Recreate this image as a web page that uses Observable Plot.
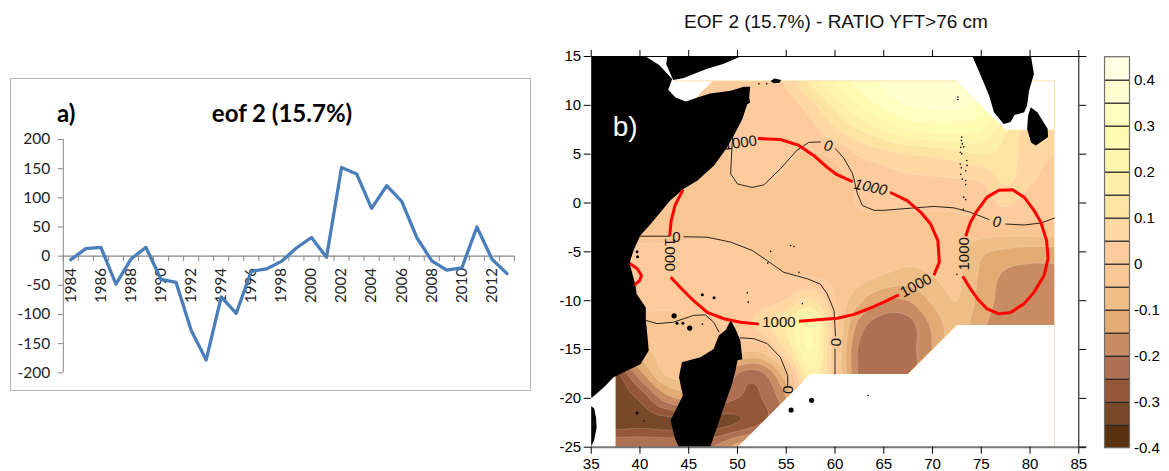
<!DOCTYPE html>
<html><head><meta charset="utf-8">
<script src="https://cdn.jsdelivr.net/npm/d3@7"></script>
<script src="https://cdn.jsdelivr.net/npm/@observablehq/plot@0.6"></script>
<style>
html,body{margin:0;padding:0;background:#fff;width:1169px;height:471px;overflow:hidden;font-family:"Liberation Sans",sans-serif}
.abs{position:absolute}
#frameA{left:10px;top:78px;width:519px;height:311px;border:1.5px solid #b5b5b5;box-sizing:content-box}
#tA{left:57px;top:98px;font:bold 24px Lato,sans-serif;color:#000}
#tA2{left:182px;width:200px;top:98px;text-align:center;font:bold 24px Lato,sans-serif;color:#000}
#tB{left:600px;width:472px;top:11px;text-align:center;font:19px "Liberation Sans",sans-serif;color:#111;white-space:nowrap}
</style></head><body>
<div id="frameA" class="abs"></div>
<div id="tA" class="abs">a)</div>
<div id="tA2" class="abs">eof 2 (15.7%)</div>
<div id="tB" class="abs">EOF 2 (15.7%) - RATIO YFT&gt;76 cm</div>
<div id="pA" class="abs" style="left:10px;top:120px"></div>
<div id="pB" class="abs" style="left:545px;top:36px"></div>
<div id="pC" class="abs" style="left:1090px;top:36px"></div>
<script>
// ---- panel a
const years = d3.range(1984, 2014);
const eof2 = [-6,13,15,-48,-5,15,-40,-45,-127,-178,-70,-98,-26,-22,-9,14,32,-2,152,141,82,121,94,32,-8,-24,-20,50,-5,-30];
const yTicksA = [-200,-150,-100,-50,0,50,100,150,200];
const yearLabels = [1984,1986,1988,1990,1992,1994,1996,1998,2000,2002,2004,2006,2008,2010,2012];
const yearEdges = d3.range(1983.5, 2014);

// ---- panel b : field (rows north to south, columns west to east)
const fieldLon = [37.5,40,42.5,45,47.5,50,52.5,55,57.5,60,62.5,65,67.5,70,72.5,75,77.5,80,82.5];
const fieldLat = [12.5,10,7.5,5,2.5,0,-2.5,-5,-7.5,-10,-12.5,-15,-17.5,-20,-22.5,-25];
const r12  = [.01,.01,.01,.01,.01,.015,.02,.06,.16,.25,.32,.36,.39,.4,.39,.36,.3,.25,.2];
const r10  = [.01,.01,.01,.01,.01,.012,.01,.02,.08,.17,.25,.31,.35,.36,.36,.33,.27,.2,.15];
const r7   = [.01,.01,.01,.01,.01,.01,.005,.01,.03,.09,.15,.2,.25,.27,.27,.25,.16,.08,.06];
const r5   = [-.01,-.01,-.01,-.01,-.01,.005,.003,.003,-.003,.01,.055,.08,.1,.11,.13,.15,.13,.07,.05];
const r2   = [-.01,-.01,-.01,-.01,-.01,.002,.002,-.003,-.01,-.01,.01,.03,.04,.045,.05,.06,.11,.06,.03];
const r0   = [-.01,-.01,-.01,-.01,-.01,-.01,-.005,-.01,-.01,-.02,.003,.006,.008,.008,.01,.02,.06,.02,.01];
const rm2  = [-.01,-.01,-.01,-.01,-.01,-.01,-.01,-.01,-.01,-.02,-.01,-.012,-.012,-.012,-.012,-.015,-.015,-.015,-.012];
const rm5  = [.005,.005,.005,.01,.01,.006,-.002,-.005,-.01,-.015,-.02,-.02,-.03,-.03,-.04,-.09,-.11,-.12,-.12];
const rm7  = [.01,.01,.01,.012,.012,.01,.01,.003,-.002,-.01,-.03,-.055,-.07,-.05,-.04,-.11,-.16,-.17,-.17];
const rm10 = [.005,.005,.005,.005,.01,.015,.03,.055,.11,0,-.09,-.15,-.15,-.09,-.05,-.12,-.17,-.18,-.18];
const rm12 = [-.01,-.01,-.01,-.005,-.005,.02,.07,.15,.24,.02,-.17,-.23,-.22,-.14,-.07,-.14,-.17,-.18,-.18];
const rm15 = [-.06,-.06,-.03,-.03,-.01,-.03,-.03,.1,.25,.01,-.21,-.24,-.22,-.15,-.07,-.14,-.17,-.18,-.18];
const rm17 = [-.31,-.17,-.05,-.03,-.03,-.2,-.21,-.06,.18,.01,-.21,-.24,-.22,-.16,-.08,-.14,-.17,-.18,-.18];
const rm20 = [-.33,-.29,-.18,-.14,-.2,-.25,-.25,-.15,.1,.01,-.21,-.24,-.22,-.16,-.08,-.14,-.17,-.18,-.18];
const rm22 = [-.33,-.32,-.32,-.32,-.32,-.3,-.25,-.18,.05,.01,-.21,-.24,-.22,-.16,-.08,-.14,-.17,-.18,-.18];
const rm25 = [-.2,-.2,-.2,-.2,-.2,-.13,-.08,-.05,.05,.01,-.21,-.24,-.22,-.16,-.08,-.14,-.17,-.18,-.18];
const fieldRows = [r12,r10,r7,r5,r2,r0,rm2,rm5,rm7,rm10,rm12,rm15,rm17,rm20,rm22,rm25];

const bandLevels = [-.4,-.35,-.3,-.25,-.2,-.15,-.1,-.05,0,.05,.1,.15,.2,.25,.3,.35,.4];
const bandTops   = [-.35,-.3,-.25,-.2,-.15,-.1,-.05,0,.05,.1,.15,.2,.25,.3,.35,.4,.45];
const bandColors = ["#5a3210","#784828","#965738","#af6f52","#c98b62","#e2ab74","#efbe86","#f9c694","#fdcb9c","#fed8a0","#fee4a2","#fef0a8","#fef6ac","#fefbb2","#ffffbf","#ffffcf","#ffffe3"];
const legendLabels = [-.4,-.3,-.2,-.1,0,.1,.2,.3,.4];

// masks (no data) in lon/lat
const maskNorthEast = [[35,15],[85,15],[85,-25],[82.5,-25],[82.5,7.5],[77.5,7.5],[72.5,12.5],[47.5,12.5],[45,10],[35,10]];
const maskWest = [[35,10],[41,10],[41,-1],[38.5,-5],[38.5,-16],[37.5,-17.5],[37.5,-25],[35,-25]];
const maskSouthEast = [[50,-25],[57.5,-17.5],[67.5,-17.5],[72.5,-12.5],[82.5,-12.5],[82.5,-25]];
const edgeTop = [[43.5,12.5],[72.5,12.5]];
const edgeTop2 = [[77.5,12.5],[82.5,12.5],[82.5,7.5]];
const edgeNW = [[47.5,12.5],[45,10]];
const edgeSE = [[67.5,-17.5],[72.5,-12.5]];
const edgeE = [[82.5,-12.5],[82.5,-25]];

// land
const africa = [[35,15],[40.6,15],[42,14.1],[43.3,12.7],[42.9,11.6],[43.65,10.8],[44.7,10.4],[45.9,10.8],[47.2,11.2],[49.3,11.5],[50.65,11.9],[51.3,11.9],[51.2,10.8],[51.3,10.3],[51,10.1],[50.5,8.6],[49.8,7.25],[48.95,5.7],[47.6,3.85],[45.9,2.3],[44.5,1.45],[43.1,.25],[42.1,-.95],[41.1,-2.15],[40.05,-3.3],[39.4,-4.7],[39,-5.9],[39,-6.4],[39.55,-8.45],[39.65,-9.3],[40.6,-10.7],[40.6,-12],[40.75,-13.4],[40.9,-15.1],[40.05,-16.5],[38.7,-17.15],[37.3,-17.85],[36.3,-18.85],[35.1,-19.9],[35,-19.9]];
const africaSouth = [[35,-20.8],[35.3,-21],[35.5,-22],[35.55,-23],[35.3,-24.3],[35,-24.9]];
const arabia = [[42.8,15],[42.7,14.2],[43.4,12.6],[44.5,12.8],[45.5,13.2],[46.9,13.75],[48.6,14.25],[50.3,15]];
const india = [[74.1,15],[74.8,13.4],[75.8,11],[76.3,9.3],[77.3,8.1],[78,8.3],[78.4,9],[79.4,9.3],[79.7,10],[79.9,11.5],[80.4,13.2],[80.1,15]];
const sriLanka = [[80.07,9.8],[80.75,9.3],[81.8,7.6],[81.85,6.75],[80.6,5.9],[80.1,6.2],[79.7,7.6],[79.8,8.95]];
const madagascar = [[49.3,-12],[49.8,-12.9],[50.3,-14.1],[50.5,-16],[50,-16.1],[49.8,-17.15],[49.45,-18.5],[48.6,-20.9],[47.9,-22.95],[47.2,-25],[44,-25],[43.55,-24],[43.15,-22.25],[44.4,-19.7],[44,-17.85],[44.3,-16.3],[46.2,-15.8],[47.55,-14.95],[48.1,-13.55],[48.8,-13]];
const socotra = [[53.4,12.5],[53.8,12.75],[54.5,12.6],[54.3,12.3],[53.7,12.25]];
const islandsTiny = [[52.2,12.2],[53,12.2],[72.6,10.85],[72.6,10.6],[73,6.75],[72.95,6.4],[73.05,6.05],[72.9,5.7],[73.2,5.75],[72.85,5.2],[73,5.05],[72.85,4],[72.95,3.6],[73.5,4.35],[73.55,3.85],[73.4,3.3],[72.9,2.95],[73.05,2.45],[73.4,2.3],[73.4,1.9],[73.2,.6],[73.4,.35],[73.15,-.65],[55.45,-4.35],[55.8,-4.45],[53.4,-4.95],[46.4,-12.4],[51,-9.2],[51.1,-10.15],[53.1,-6.15],[56.3,-7.1],[56.65,-10.3],[40.4,-22.3],[72.5,-7.3],[63.4,-19.7]];
const islandsSmall = [[39.7,-5],[39.75,-5.5],[44.4,-12.3],[46.4,-9.4],[47.6,-9.7],[39.7,-21.5],[43.8,-12.3]];
const islandsBig = [[43.5,-11.55],[45.1,-12.8],[55.5,-21.2],[57.6,-20.2]];

// red 1000 m isobath segments
const red1 = [[44.4,1.35],[43.6,-.25],[43.2,-1.8],[43.05,-3.4]];
const red2 = [[52.1,6.6],[54.4,6.5],[56.3,5.9],[57.85,4.85],[59.2,3.65],[60.2,2.9],[61.8,2.2]];
const red3 = [[65.65,1.1],[67.4,.25],[68.8,-.95],[69.8,-2.15],[70.55,-3.85],[70.7,-6.05],[70.15,-7.4]];
const red4 = [[66.55,-9.4],[65,-10.15],[63.5,-10.8],[61.95,-11.4],[60.25,-11.8],[56.3,-12.1]];
const red5 = [[52.2,-12.4],[50.3,-12.2],[48.6,-11.85],[46.9,-11.2],[45.5,-10],[44.3,-8.8],[43.15,-7.6]];
const red6 = [[38.95,-6.2],[39.7,-6.7],[40.15,-7.4],[40,-7.9],[39.45,-8.4]];
const red7 = [[73.4,-3.4],[73.9,-1.95],[74.6,-.75],[75.6,.6],[76.8,1.3],[78.2,1.35],[79.4,.6],[80.4,-.75],[81.1,-1.95],[81.7,-3.85],[81.85,-5.7],[81.45,-7.4],[80.4,-9.15],[79.4,-10.3],[78,-11.2],[76.8,-11.35],[75.6,-10.85],[74.6,-9.8],[73.9,-8.8],[73.1,-7.5]];
const redLines = [red1,red2,red3,red4,red5,red6,red7];

// zero contours of the EOF
const zero1 = [[49.55,7.1],[49.45,6.05],[49.3,3],[50,1.95],[51.5,1.6],[52.7,1.85],[54.4,3.5],[56.1,5.4],[57.3,6.2],[58.5,6.25]];
const zero2 = [[60.05,5.55],[60.9,4.6],[61.8,3],[62.3,.95],[62.8,-.25],[64,-.75],[65,-.75],[68.1,-.5],[70.15,-.35],[72.2,-.5],[73.9,-.95],[75.8,-1.7]];
const zero3 = [[77.5,-2.15],[79.4,-2.25],[81.1,-2.05],[82.5,-1.55]];
const zero4 = [[40.05,-3.4],[43.05,-3.4]];
const zero5 = [[44.5,-3.45],[46.9,-3.5],[49.3,-4],[51.5,-4.85],[53.05,-5.9],[54.75,-7.1],[57.15,-7.75],[58.5,-8.3],[59.2,-9.3],[59.9,-11],[60.05,-13.6]];
const zero6 = [[60,-14.95],[60,-17.5]];
const zero7 = [[40.55,-12],[41.75,-12.35],[43.45,-12.2],[45.5,-11.5],[46.7,-11.45],[47.55,-12.2],[48.1,-13.2]];
const zero8 = [[50.3,-13.8],[51.7,-13.9],[53.05,-14.4],[54.4,-15.8],[55.15,-17.65],[55.15,-18.7]];
const zeroLines = [zero1,zero2,zero3,zero4,zero5,zero6,zero7,zero8];

const labelText = ["1000","0","1000","0","1000","1000","0","1000","1000","0","0"];
const labelLon  = [50.3,59.3,63.65,43.75,43.1,73.2,76.6,68.3,54.25,60.05,55.15];
const labelLat  = [6.15,5.85,1.6,-3.45,-5.3,-5.2,-1.95,-8.45,-12.2,-14.25,-19.1];
const labelRot  = [-8,10,12,0,90,-90,5,-28,0,90,90];
const labelItalic = [false,true,true,false,false,false,true,false,false,false,false];
const labels = labelText.map((t,i)=>({t,x:labelLon[i],y:labelLat[i],r:labelRot[i],it:labelItalic[i]}));

const lonTicks = d3.range(35,90,5);
const latTicks = d3.range(-25,20,5);

// smooth reading of the gridded field for the contour sampler
const cr=(a,b,c,d,t)=>b+.5*t*(c-a+t*(2*a-5*b+4*c-d+t*(3*(b-c)+d-a)));
const clampTo=(v,n)=>Math.max(0,Math.min(n-1,v));
function fieldAt(lon,lat){
  const u=clampTo((lon-fieldLon[0])/2.5,fieldLon.length), v=clampTo((fieldLat[0]-lat)/2.5,fieldLat.length);
  const i=Math.min(Math.floor(u),fieldLon.length-2), j=Math.min(Math.floor(v),fieldLat.length-2);
  const at=(jj)=>{const r=fieldRows[clampTo(jj,fieldLat.length)];
    return cr(r[clampTo(i-1,fieldLon.length)],r[i],r[i+1],r[clampTo(i+2,fieldLon.length)],u-i);};
  return Math.max(-.345,cr(at(j-1),at(j),at(j+1),at(j+2),v-j));
}

// ---- draw a
const axisGrey = "#868686";
document.getElementById("pA").append(Plot.plot({
  width:520,height:265,marginLeft:52.8,marginRight:16,marginTop:19,marginBottom:12.7,
  style:{fontFamily:"Lato,sans-serif",fontSize:"15.5px",color:"#222",background:"transparent",overflow:"visible"},
  x:{domain:[1983.5,2013.5],axis:null},
  y:{domain:[-200,200],label:null},
  marks:[
    Plot.axisY({ticks:yTicksA,tickSize:5,tickPadding:8,stroke:axisGrey,tickFormat:d=>d,label:null,textStroke:"none"}),
    Plot.ruleX([1983.5],{y1:-200,y2:200,stroke:axisGrey,strokeWidth:1}),
    Plot.ruleY([0],{x1:1983.5,x2:2013.5,stroke:axisGrey,strokeWidth:1.2}),
    Plot.ruleX(yearEdges,{y1:0,y2:-9,stroke:axisGrey,strokeWidth:1}),
    Plot.text(yearLabels,{x:d=>d,y:0,dy:12,rotate:-90,textAnchor:"end",text:d=>String(d),fill:"#222",fontSize:15}),
    Plot.line(years.map((y,i)=>[y,eof2[i]]),{stroke:"#4a7ebb",strokeWidth:3.3,strokeLinejoin:"round"})
  ]
}));

// ---- draw b
const poly = (pts,fill)=>Plot.line(pts,{fill,stroke:"none"});
document.getElementById("pB").append(Plot.plot({
  width:560,height:435,marginLeft:45.7,marginRight:26.7,marginTop:20,marginBottom:24.3,
  style:{fontFamily:"'Liberation Sans',sans-serif",fontSize:"15px",color:"#000",background:"transparent",overflow:"visible"},
  x:{domain:[35,85]},y:{domain:[-25,15]},
  color:{type:"threshold",domain:bandLevels.slice(1),range:bandColors},
  marks:[
    Plot.contour(null,{value:fieldAt,x1:36,x2:84,y1:14,y2:-26,pixelSize:1.5,
      thresholds:bandLevels,fill:"value",stroke:"#fff",strokeOpacity:.28,strokeWidth:.7,clip:"frame"}),
    poly(maskNorthEast,"#fff"),poly(maskWest,"#fff"),poly(maskSouthEast,"#fff"),
    ...[edgeTop,edgeTop2,edgeNW,edgeSE].map(e=>Plot.line(e,{stroke:"#f3dfa4",strokeWidth:1})),
    Plot.line(edgeE,{stroke:"#e8dfc8",strokeWidth:1}),
    poly(africa,"#000"),poly(africaSouth,"#000"),poly(arabia,"#000"),poly(india,"#000"),poly(sriLanka,"#000"),poly(madagascar,"#000"),poly(socotra,"#000"),
    Plot.dot(islandsTiny,{r:.8,fill:"#000",stroke:"none"}),
    Plot.dot(islandsSmall,{r:1.5,fill:"#000",stroke:"none"}),
    Plot.dot(islandsBig,{r:2.6,fill:"#000",stroke:"none"}),
    ...zeroLines.map(l=>Plot.line(l,{stroke:"#111",strokeWidth:.9})),
    ...redLines.map(l=>Plot.line(l,{stroke:"#f00",strokeWidth:3,strokeLinecap:"butt"})),
    Plot.text(labels.filter(d=>!d.it),{x:"x",y:"y",text:"t",rotate:"r",fill:"#111",fontSize:15}),
    Plot.text(labels.filter(d=>d.it),{x:"x",y:"y",text:"t",rotate:"r",fill:"#111",fontSize:15,fontStyle:"italic"}),
    Plot.text(["b)"],{x:37.2,y:7.75,textAnchor:"start",fill:"#fff",fontSize:28}),
    Plot.ruleY([-25],{x1:35,x2:85.8,stroke:"#777",strokeWidth:2}),
    Plot.ruleY([15],{x1:35,x2:85.8,stroke:"#000",strokeWidth:1}),
    Plot.ruleX([85],{y1:-25,y2:15,stroke:"#000",strokeWidth:1}),
    Plot.axisX({anchor:"bottom",ticks:lonTicks,tickSize:7,tickPadding:4,label:null,tickFormat:d=>d}),
    Plot.axisX({anchor:"top",ticks:lonTicks,tickSize:7,tickFormat:()=>"",label:null}),
    Plot.axisY({anchor:"left",ticks:latTicks,tickSize:7,tickPadding:3,label:null,tickFormat:d=>d}),
    Plot.axisY({anchor:"right",ticks:latTicks,tickSize:7,tickFormat:()=>"",label:null})
  ]
}));

// ---- draw colour key
const bands = bandLevels.map((v,i)=>({y1:v,y2:bandTops[i]}));
document.getElementById("pC").append(Plot.plot({
  width:79,height:435,marginLeft:14.5,marginRight:39.5,marginTop:20.7,marginBottom:23.3,
  style:{fontFamily:"'Liberation Sans',sans-serif",fontSize:"15px",color:"#000",background:"transparent",overflow:"visible"},
  x:{domain:[0,1],axis:null},y:{domain:[-.4,.45]},
  color:{type:"threshold",domain:bandLevels.slice(1),range:bandColors},
  marks:[
    Plot.rectY(bands,{x1:0,x2:1,y1:"y1",y2:"y2",fill:"y1"}),
    Plot.ruleY(bandTops.slice(0,-1),{x1:0,x2:1,stroke:"#222",strokeWidth:1.3}),
    Plot.rect([0],{x1:0,x2:1,y1:-.4,y2:.45,fill:"none",stroke:"#6d6d6d",strokeWidth:1.2}),
    Plot.axisY({anchor:"right",ticks:legendLabels,tickSize:0,tickPadding:4,label:null,tickFormat:d=>String(+d.toFixed(1))})
  ]
}));
</script>
</body></html>
